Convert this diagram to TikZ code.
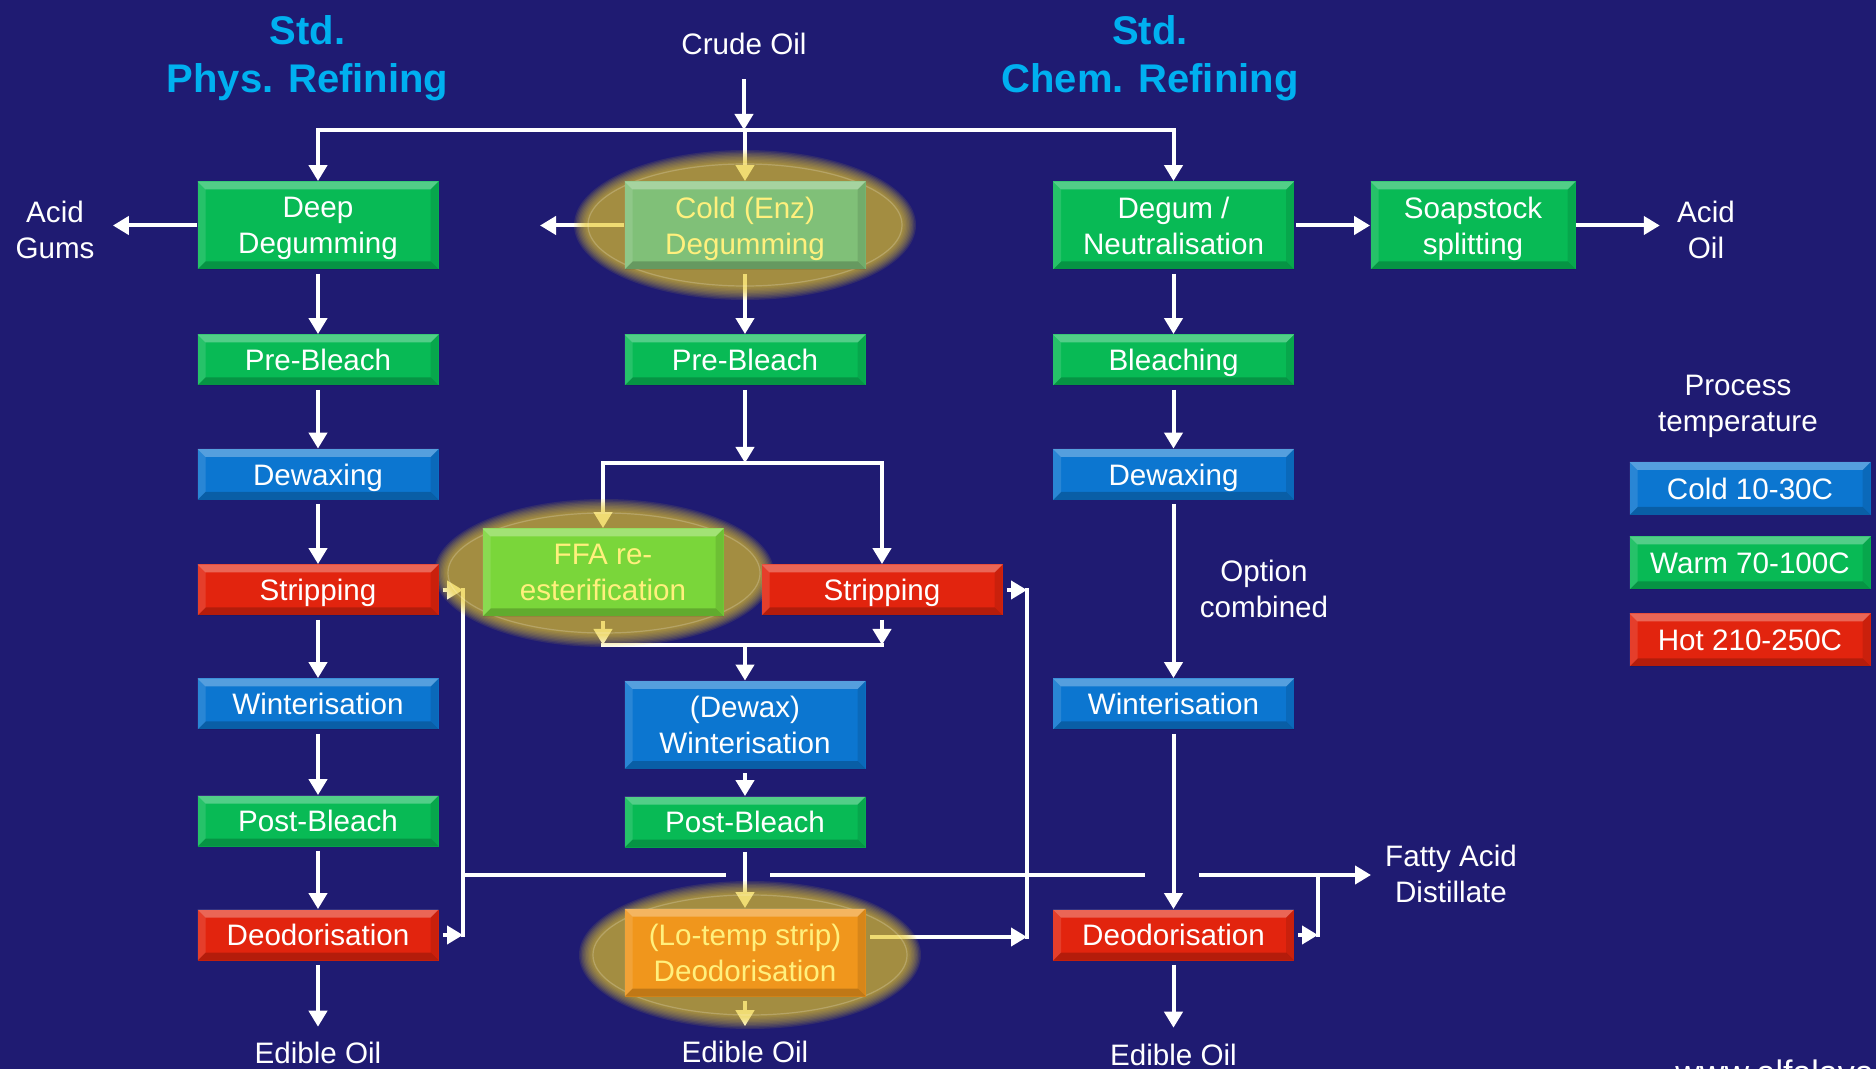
\documentclass[tikz,border=0pt]{standalone}
\usepackage{fontspec}
\setmainfont{Liberation Sans}
\usetikzlibrary{arrows.meta,calc}
\definecolor{bgc}{RGB}{31,27,114}
\definecolor{gboxc}{RGB}{8,186,85}
\definecolor{bboxc}{RGB}{12,118,208}
\definecolor{rboxc}{RGB}{226,36,14}
\definecolor{coldc}{RGB}{128,192,120}
\definecolor{ffac}{RGB}{122,214,58}
\definecolor{ltc}{RGB}{240,150,28}
\definecolor{hltext}{RGB}{255,240,125}
\definecolor{titlec}{RGB}{0,176,240}
\definecolor{glowc}{RGB}{235,205,45}
\pgfdeclarelayer{bg}
\pgfdeclarelayer{arrows}
\pgfdeclarelayer{glow}
\pgfsetlayers{bg,arrows,glow,main}
\newcommand{\nd}[1]{\raisebox{0pt}[\height][0pt]{#1}}
\tikzset{bevel/.style={path picture={
  \coordinate (bvnw) at (path picture bounding box.north west);
  \coordinate (bvse) at (path picture bounding box.south east);
  \coordinate (bvne) at (path picture bounding box.north east);
  \coordinate (bvsw) at (path picture bounding box.south west);
  \fill[white,opacity=0.3] (bvnw) -- (bvne) -- ([shift={(-4pt,-4pt)}]bvne) -- ([shift={(4pt,-4pt)}]bvnw) -- cycle;
  \fill[black,opacity=0.2] (bvsw) -- (bvse) -- ([shift={(-4pt,4pt)}]bvse) -- ([shift={(4pt,4pt)}]bvsw) -- cycle;
  \fill[black,opacity=0.1] (bvne) -- (bvse) -- ([shift={(-4pt,4pt)}]bvse) -- ([shift={(-4pt,-4pt)}]bvne) -- cycle;
  \fill[white,opacity=0.12] (bvnw) -- (bvsw) -- ([shift={(4pt,4pt)}]bvsw) -- ([shift={(4pt,-4pt)}]bvnw) -- cycle;
}}}
\newcommand{\hlglow}[4]{%
  \foreach \k in {0,...,9}{\fill[glowc,opacity=0.1] (#1,#2) ellipse [x radius={#3pt+7pt-0.7pt*\k}, y radius={#4pt+7pt-0.7pt*\k}];}
  \draw[white,opacity=0.2,line width=0.6pt] (#1,#2) ellipse [x radius=#3pt, y radius=#4pt];}
\begin{document}
\begin{tikzpicture}[x=0.5pt,y=-0.5pt,
  bx/.style={rectangle, inner sep=0pt, minimum width=120.5pt, align=center, text=white, font=\fontsize{14.8}{18}\selectfont, bevel},
  one/.style={minimum height=25.5pt},
  two/.style={minimum height=44pt},
  gfill/.style={fill=gboxc}, bfill/.style={fill=bboxc}, rfill/.style={fill=rboxc},
  hl/.style={text=hltext},
  lab/.style={text=white, align=center, inner sep=0pt, font=\fontsize{14.8}{18}\selectfont},
  ttl/.style={text=titlec, align=center, inner sep=0pt, font=\fontsize{20}{24}\selectfont\bfseries},
  arr/.style={draw=white, line width=2pt, -{Triangle[width=9pt,length=8pt]}},
  ln/.style={draw=white, line width=2pt, line cap=rect},
  sh/.style={shorten <=2pt}]
\useasboundingbox (0,0) rectangle (1876,1069);
\clip (0,0) rectangle (1876,1069);
\begin{pgfonlayer}{bg}\fill[bgc] (0,0) rectangle (1876,1069);\end{pgfonlayer}

% titles and labels
\node[ttl] (t1) at (307.5,54.5) {Std.\\\nd{Phys. Refining}};
\node[ttl] (t2) at (1150,54.5) {Std.\\\nd{Chem. Refining}};
\node[lab] (crude) at (744,44) {Crude Oil};
\node[lab] (gums) at (55,230) {Acid\\Gums};
\node[lab] (aoil) at (1706,230) {Acid\\Oil};
\node[lab] (opt) at (1264,588.6) {Option\\combined};
\node[lab] (fad) at (1451,874) {Fatty Acid\\Distillate};
\node[lab] (proc) at (1738,406) {Process\\temperature};

% left column
\node[bx,two,gfill] (deep) at (318,225.5) {Deep\\\nd{Degumming}};
\node[bx,one,gfill] (pb1) at (318,360) {Pre-Bleach};
\node[bx,one,bfill] (dw1) at (318,474.5) {\nd{Dewaxing}};
\node[bx,one,rfill] (st1) at (318,590) {\nd{Stripping}};
\node[bx,one,bfill] (wi1) at (318,704) {Winterisation};
\node[bx,one,gfill] (po1) at (318,821) {Post-Bleach};
\node[bx,one,rfill] (de1) at (318,935) {Deodorisation};
\node[lab] (eo1) at (318,1053) {Edible Oil};

% middle column
\node[bx,two,fill=coldc,hl] (cold) at (745,225.5) {Cold (Enz)\\\nd{Degumming}};
\node[bx,one,gfill] (pb2) at (745,360) {Pre-Bleach};
\node[bx,two,fill=ffac,hl] (ffa) at (603,572.5) {FFA re-\\esterification};
\node[bx,one,rfill] (st2) at (882,590) {\nd{Stripping}};
\node[bx,two,bfill] (dww) at (745,725) {(Dewax)\\Winterisation};
\node[bx,one,gfill] (po2) at (745,822) {Post-Bleach};
\node[bx,two,fill=ltc,hl] (lt) at (745,952.5) {(Lo-temp strip)\\Deodorisation};
\node[lab] (eo2) at (745,1051.5) {Edible Oil};

% right column
\node[bx,two,gfill] (deg) at (1173.5,225.5) {Degum /\\Neutralisation};
\node[bx,two,gfill,minimum width=102.5pt] (soap) at (1473,225.5) {Soapstock\\\nd{splitting}};
\node[bx,one,gfill] (bl3) at (1173.5,360) {\nd{Bleaching}};
\node[bx,one,bfill] (dw3) at (1173.5,474.5) {\nd{Dewaxing}};
\node[bx,one,bfill] (wi3) at (1173.5,704) {Winterisation};
\node[bx,one,rfill] (de3) at (1173.5,935) {Deodorisation};
\node[lab] (eo3) at (1173.5,1055) {Edible Oil};

% legend
\node[bx,bfill,minimum height=26.5pt] (lcold) at (1750,488.5) {Cold 10-30C};
\node[bx,gfill,minimum height=26.5pt] (lwarm) at (1750,563) {Warm 70-100C};
\node[bx,rfill,minimum height=26.5pt] (lhot) at (1750,640) {Hot 210-250C};

\node[text=white, anchor=base west, inner sep=0pt, font=\fontsize{17}{20}\selectfont] (www) at (1675,1084) {www.alfalaval.com};

% coordinates
\coordinate (split) at (745,130);
\coordinate (coldout) at (540,227.5);
\coordinate (m1) at (745,463);
\coordinate (m2) at (745,645);
\coordinate (c1t) at (463,590);
\coordinate (c1b) at (463,935);
\coordinate (c1h) at (463,875);
\coordinate (c2t) at (1027,590);
\coordinate (c2b) at (1027,937);
\coordinate (c3t) at (1318,875);
\coordinate (c3b) at (1318,935);
\coordinate (g1a) at (724,875);
\coordinate (g1b) at (772,875);
\coordinate (g2a) at (1143,875);
\coordinate (g2b) at (1199,875);
\coordinate (fatip) at (1371,875);

\begin{pgfonlayer}{arrows}
\draw[arr,shorten <=12pt] (crude.south) -- (crude.south |- split);
\draw[ln] (deep.north |- split) -- (deg.north |- split);
\draw[arr] (deep.north |- split) -- (deep.north);
\draw[arr] (split) -- (cold.north);
\draw[arr] (deg.north |- split) -- (deg.north);
\draw[arr,shorten >=9pt] (deep.west) -- (deep.west -| gums.east);
\draw[arr] (cold.west) -- (cold.west -| coldout);
\draw[arr,shorten <=1pt] (deg.east) -- (soap.west);
\draw[arr,shorten >=8.5pt] (soap.east) -- (soap.east -| aoil.west);
\foreach \a/\b in {deep/pb1,pb1/dw1,dw1/st1,st1/wi1,wi1/po1,po1/de1}
  \draw[arr,sh] (\a) -- (\b);
\draw[arr,sh,shorten >=7.5pt] (de1) -- (eo1);
\draw[arr,sh] (cold) -- (pb2);
\draw[arr,sh] (pb2.south) -- (m1);
\draw[ln] (ffa.north |- m1) -- (st2.north |- m1);
\draw[arr] (ffa.north |- m1) -- (ffa.north);
\draw[arr] (st2.north |- m1) -- (st2.north);
\draw[arr,sh] (ffa.south) -- (ffa.south |- m2);
\draw[arr,sh] (st2.south) -- (st2.south |- m2);
\draw[ln] (ffa.south |- m2) -- (st2.south |- m2);
\draw[arr] (m2) -- (dww.north);
\draw[arr,sh] (dww) -- (po2);
\draw[arr,sh] (po2) -- (lt);
\draw[arr,sh,shorten >=7pt] (lt) -- (eo2);
\draw[arr,sh] (st1.east) -- (c1t);
\draw[arr,sh] (de1.east) -- (c1b);
\draw[ln] (c1t) -- (c1b);
\draw[arr,sh] (st2.east) -- (c2t);
\draw[arr,sh] (lt.east |- c2b) -- (c2b);
\draw[ln] (c2t) -- (c2b);
\draw[arr,sh] (de3.east) -- (c3b);
\draw[ln] (c3t) -- (c3b);
\draw[ln] (c1h) -- (g1a);
\draw[ln] (g1b) -- (g2a);
\draw[arr] (g2b) -- (fatip);
\foreach \a/\b in {deg/bl3,bl3/dw3,dw3/wi3,wi3/de3}
  \draw[arr,sh] (\a) -- (\b);
\draw[arr,sh,shorten >=8pt] (de3) -- (eo3);
\end{pgfonlayer}

\begin{pgfonlayer}{glow}
\hlglow{745}{225}{78.5}{30.5}
\hlglow{604}{573}{78}{30}
\hlglow{750}{955}{78.5}{30}
\end{pgfonlayer}
\end{tikzpicture}
\end{document}
